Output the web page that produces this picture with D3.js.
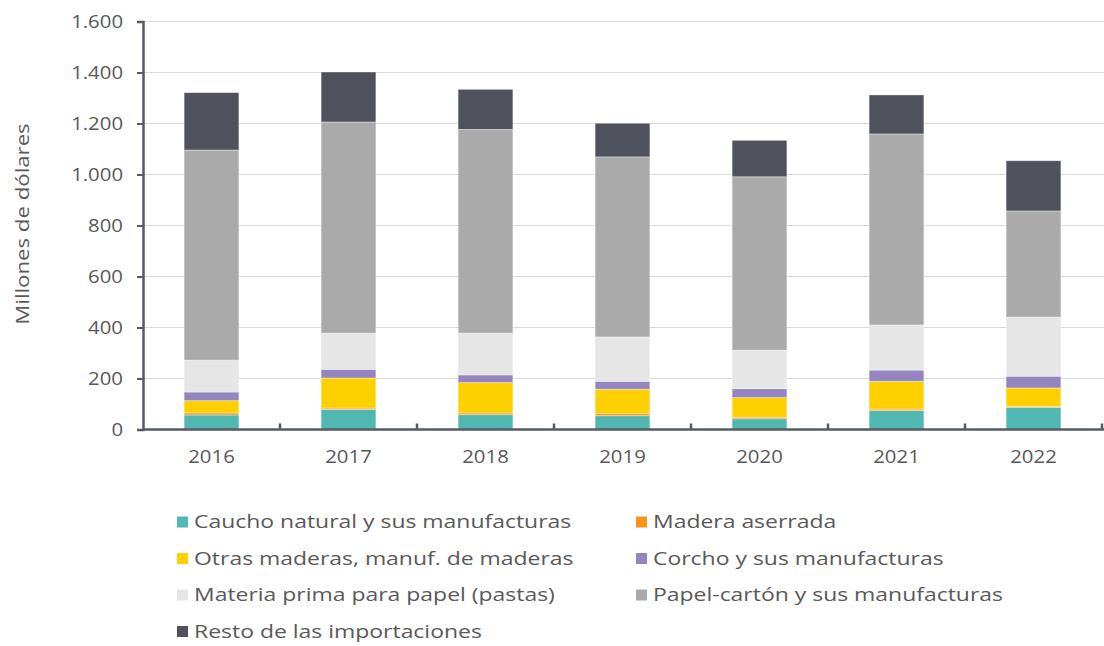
<!DOCTYPE html>
<html><head><meta charset="utf-8">
<script src="https://cdn.jsdelivr.net/npm/d3@7/dist/d3.min.js"></script>
<style>
body{margin:0;background:#fff;}
text{font-family:"Open Sans",sans-serif;fill:#595959;}
</style></head>
<body><svg id="c" width="1104" height="646"></svg>
<script>
const years = ["2016","2017","2018","2019","2020","2021","2022"];
const seriesNames = ["Caucho natural y sus manufacturas","Madera aserrada","Otras maderas, manuf. de maderas","Corcho y sus manufacturas","Materia prima para papel (pastas)","Papel-cartón y sus manufacturas","Resto de las importaciones"];
const colors = ["#50b8b0","#f7941d","#ffd000","#9485c0","#e6e6e6","#aaaaaa","#4f525c"];
const caucho  = [57, 78, 58, 54, 42, 74, 87];
const madera  = [8, 6, 7, 8, 6, 6, 4];
const otras   = [48, 118, 119, 96, 77, 109, 72];
const corcho  = [34, 34, 30, 31, 35, 44, 46];
const pastas  = [125, 142, 164, 174, 151, 177, 232];
const papel   = [824, 828, 799, 706, 680, 749, 416];
const resto   = [225, 196, 157, 132, 143, 153, 197];
const yTicks = [0,200,400,600,800,1000,1200,1400,1600];

const seriesVals = [caucho, madera, otras, corcho, pastas, papel, resto];
const rows = years.map((y,i)=>{const o={year:y}; seriesNames.forEach((s,k)=>o[s]=seriesVals[k][i]); return o;});
const stacked = d3.stack().keys(seriesNames)(rows);

const svg = d3.select("#c");
const m = {l:143, r:1102, t:21.5, b:429.5};
const x = d3.scaleBand().domain(years).range([m.l,m.r]).paddingInner(0.6).paddingOuter(0.3);
const y = d3.scaleLinear().domain([0,1600]).range([m.b,m.t]);
const loc = d3.formatLocale({decimal:",",thousands:".",grouping:[3],currency:["$",""]});
const fmt = loc.format(",d");
const FF = '"Open Sans",sans-serif';

function stretch(sel, f){
  sel.each(function(){
    const w = this.getComputedTextLength();
    d3.select(this).attr("textLength", w*f).attr("lengthAdjust","spacingAndGlyphs");
  });
}

// grid
svg.append("g").selectAll("line").data(yTicks.filter(d=>d>0)).join("line")
  .attr("x1",m.l).attr("x2",1104).attr("y1",d=>y(d)).attr("y2",d=>y(d))
  .attr("stroke","#d9d9d9").attr("stroke-width",1);

// bars
svg.append("g").selectAll("g").data(stacked).join("g")
  .attr("fill",(d,i)=>colors[i])
  .selectAll("rect").data(d=>d).join("rect")
  .attr("x",d=>x(d.data.year)).attr("width",x.bandwidth())
  .attr("y",d=>y(d[1])).attr("height",d=>y(d[0])-y(d[1]))
  .attr("stroke","#ffffff").attr("stroke-opacity",0.5).attr("stroke-width",0.75);

// y axis
const ya = svg.append("g").attr("transform",`translate(${m.l},0)`)
  .call(d3.axisLeft(y).tickValues(yTicks).tickFormat(fmt).tickSize(6).tickPadding(14));
ya.select(".domain").attr("stroke","#555a64").attr("stroke-width",2.5);
ya.selectAll(".tick line").attr("stroke","#555a64").attr("stroke-width",2);
ya.selectAll("text").attr("font-size",18.5).attr("fill","#595959").style("font-family",FF).call(stretch,1.1);

// x axis
const xa = svg.append("g").attr("transform",`translate(0,${m.b})`)
  .call(d3.axisBottom(x).tickSize(0).tickPadding(20));
xa.select(".domain").attr("stroke","#555a64").attr("stroke-width",2.5).attr("d",`M${m.l},0H1104`);
xa.selectAll("text").attr("font-size",18.5).attr("fill","#595959").style("font-family",FF).call(stretch,1.1);
const step = x.step();
svg.append("g").selectAll("line").data(years.map((d,i)=>i+1)).join("line")
  .attr("x1",d=>m.l+step*d).attr("x2",d=>m.l+step*d)
  .attr("y1",m.b).attr("y2",m.b-6).attr("stroke","#555a64").attr("stroke-width",2.5);

// y title
svg.append("text").attr("transform","translate(29,224) rotate(-90)")
  .attr("text-anchor","middle").attr("font-size",18.5).text("Millones de dólares").call(stretch,1.2);

// legend
const lg = svg.append("g");
seriesNames.forEach((s,i)=>{
  const col=i%2, row=Math.floor(i/2);
  const lx = col===0?177:636, ly = 522+row*36.5;
  lg.append("rect").attr("x",lx).attr("y",ly-5.5).attr("width",11).attr("height",11).attr("fill",colors[i]);
  lg.append("text").attr("x",lx+17).attr("y",ly).attr("dy","0.35em").attr("font-size",18.5).text(s).call(stretch,1.24);
});
</script></body></html>
